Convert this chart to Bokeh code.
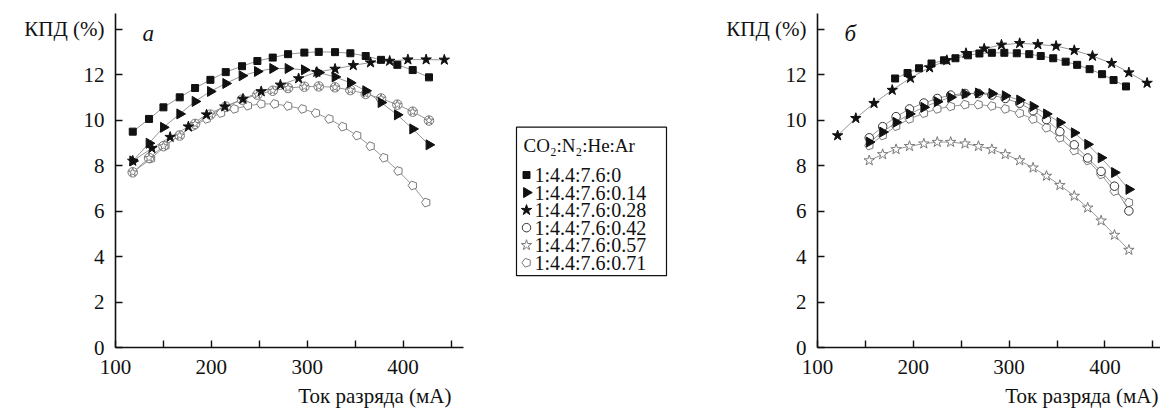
import numpy as np
from bokeh.plotting import figure
from bokeh.layouts import row
from bokeh.models import ColumnDataSource, FixedTicker, Label, Range1d, Title
from bokeh.core.properties import value
from bokeh.embed import file_html
from bokeh.resources import INLINE

# ---------------- data: panel "а" ----------------
a_x_sq = [118, 135, 150, 167, 183, 199, 215, 232, 248, 264, 280, 297, 312, 329, 345, 361, 377, 394, 410, 427]
a_sq = [9.50, 10.06, 10.57, 11.01, 11.42, 11.78, 12.12, 12.38, 12.61, 12.76, 12.91, 12.98, 13.01, 13.00, 12.95, 12.83, 12.66, 12.44, 12.21, 11.89]
a_tri = [8.21, 8.99, 9.69, 10.28, 10.83, 11.27, 11.62, 11.96, 12.15, 12.28, 12.28, 12.22, 12.10, 11.91, 11.65, 11.30, 10.78, 10.24, 9.62, 8.92]
a_mid = [7.71, 8.34, 8.86, 9.33, 9.84, 10.25, 10.60, 10.91, 11.13, 11.30, 11.42, 11.48, 11.49, 11.45, 11.33, 11.16, 10.96, 10.69, 10.38, 9.99]
a_x_star = [118, 138, 157, 176, 195, 214, 233, 252, 272, 291, 310, 329, 348, 366, 386, 405, 424, 443]
a_star = [8.21, 8.77, 9.26, 9.72, 10.25, 10.60, 10.94, 11.27, 11.56, 11.84, 12.12, 12.26, 12.42, 12.54, 12.61, 12.67, 12.67, 12.66]
a_x_pent = [118, 137, 152, 166, 180, 195, 210, 224, 238, 252, 266, 280, 295, 309, 323, 337, 352, 366, 380, 395, 410, 424]
a_pent = [7.71, 8.31, 8.88, 9.33, 9.72, 10.06, 10.32, 10.50, 10.64, 10.72, 10.72, 10.63, 10.50, 10.32, 10.06, 9.72, 9.33, 8.86, 8.35, 7.77, 7.13, 6.38]

# ---------------- data: panel "б" ----------------
b_x_star = [121, 140, 159, 178, 197, 217, 235, 255, 274, 292, 311, 330, 349, 368, 387, 407, 425, 444]
b_star = [9.33, 10.09, 10.75, 11.33, 11.86, 12.32, 12.64, 12.95, 13.15, 13.32, 13.39, 13.34, 13.27, 13.08, 12.83, 12.51, 12.10, 11.64]
b_x_sq = [181, 194, 206, 219, 232, 244, 257, 269, 282, 295, 308, 321, 333, 346, 359, 371, 384, 397, 409, 422]
b_sq = [11.84, 12.08, 12.29, 12.50, 12.64, 12.73, 12.86, 12.94, 12.97, 12.97, 12.95, 12.91, 12.83, 12.73, 12.58, 12.44, 12.25, 12.03, 11.77, 11.49]
b_x = [154, 168, 182, 196, 211, 225, 239, 254, 268, 282, 296, 311, 325, 339, 353, 368, 382, 396, 410, 425]
b_tri = [9.04, 9.48, 9.91, 10.28, 10.57, 10.82, 11.01, 11.16, 11.20, 11.18, 11.08, 10.89, 10.61, 10.28, 9.90, 9.45, 8.94, 8.35, 7.70, 6.96]
b_circ = [9.23, 9.72, 10.16, 10.50, 10.76, 10.96, 11.11, 11.18, 11.18, 11.11, 10.96, 10.75, 10.42, 10.03, 9.50, 8.92, 8.34, 7.75, 7.10, 6.01]
b_ostar = [8.23, 8.50, 8.72, 8.86, 8.97, 9.04, 9.04, 8.97, 8.86, 8.72, 8.50, 8.23, 7.91, 7.55, 7.14, 6.67, 6.15, 5.58, 4.95, 4.29]
b_pent = [8.89, 9.33, 9.74, 10.06, 10.31, 10.50, 10.61, 10.69, 10.69, 10.63, 10.50, 10.31, 10.05, 9.67, 9.23, 8.67, 8.23, 7.62, 6.88, 6.38]

legend_title = "CO₂:N₂:He:Ar"
legend_labels = ["1:4.4:7.6:0", "1:4.4:7.6:0.14", "1:4.4:7.6:0.28",
                 "1:4.4:7.6:0.42", "1:4.4:7.6:0.57", "1:4.4:7.6:0.71"]
x_ticks = [100, 150, 200, 250, 300, 350, 400, 450]
x_tick_labels = {100: "100", 150: "", 200: "200", 250: "", 300: "300", 350: "", 400: "400", 450: ""}
y_ticks = [0, 2, 4, 6, 8, 10, 12, 14]
y_tick_labels = {14: "КПД (%)"}
x_title = "Ток разряда (мА)"

FONT = "Liberation Serif"
LINE_C = "#8a8a8a"
BLACK = "#111111"
GREY = "#7a7a7a"
H = 412
TOP, BOTTOM = 13, 64


def style_axes(p, title_offset):
    p.grid.visible = False
    p.outline_line_color = None
    p.xaxis.ticker = FixedTicker(ticks=x_ticks)
    p.xaxis.major_label_overrides = x_tick_labels
    p.yaxis.ticker = FixedTicker(ticks=y_ticks)
    p.yaxis.major_label_overrides = y_tick_labels
    for ax in (p.xaxis[0], p.yaxis[0]):
        ax.axis_line_width = 1.6
        ax.axis_line_color = BLACK
        ax.major_tick_in = 7
        ax.major_tick_out = 0
        ax.major_tick_line_width = 1.4
        ax.major_tick_line_color = BLACK
        ax.minor_tick_line_color = None
        ax.major_label_text_font = FONT
        ax.major_label_text_font_size = "21px"
        ax.major_label_text_color = BLACK
    p.xaxis.major_label_standoff = 12
    p.yaxis.major_label_standoff = 11
    t = Title(text=x_title, align="right", offset=title_offset, standoff=10,
              text_font=FONT, text_font_size="21px", text_font_style="normal", text_color=BLACK)
    p.add_layout(t, "below")


def make_panel(width, left, right, x_end, letter, title_offset):
    p = figure(width=width, height=H, x_range=Range1d(100, x_end), y_range=Range1d(0, 14.7),
               output_backend="svg", toolbar_location=None,
               min_border_left=left, min_border_right=right, min_border_top=TOP, min_border_bottom=BOTTOM)
    style_axes(p, title_offset)
    p.add_layout(Label(x=27, y=314, x_units="screen", y_units="screen", text=letter,
                       text_font=FONT, text_font_style="italic", text_font_size="23px",
                       text_baseline="middle", text_color=BLACK))
    return p


def line(p, x, y):
    src = ColumnDataSource(dict(x=x, y=y))
    p.line("x", "y", source=src, line_color=LINE_C, line_width=0.9)
    return src


def markers(p, src, kind):
    if kind == 0:
        return p.scatter("x", "y", source=src, marker="square", size=7, fill_color=BLACK, line_color=BLACK)
    if kind == 1:
        return p.scatter("x", "y", source=src, marker="triangle", angle=-np.pi / 2, size=10,
                         fill_color=BLACK, line_color=BLACK)
    if kind == 2:
        return p.scatter("x", "y", source=src, marker="star", size=11, fill_color=BLACK, line_color=BLACK)
    if kind == 3:
        return p.scatter("x", "y", source=src, marker="circle", size=8.5, fill_color="white",
                         line_color="#333333", line_width=1)
    if kind == 4:
        return p.scatter("x", "y", source=src, marker="star", size=11, fill_color="white",
                         line_color=GREY, line_width=1)
    if kind == 5:
        return p.ngon("x", "y", source=src, radius=4.6, radius_units="screen", n=5, angle=np.pi / 2,
                      fill_color="white", line_color=GREY, line_width=1)


# ---------------- left panel ----------------
pa = make_panel(498, 115, 35, 463, "а", 12)
s_sq = line(pa, a_x_sq, a_sq)
s_tri = line(pa, a_x_sq, a_tri)
s_mid = line(pa, a_x_sq, a_mid)
s_star = line(pa, a_x_star, a_star)
s_pent = line(pa, a_x_pent, a_pent)
markers(pa, s_pent, 5)
pa.scatter("x", "y", source=s_mid, marker="circle", size=9.5, fill_color="white", line_color=GREY, line_width=1)
pa.scatter("x", "y", source=s_mid, marker="star", size=9, fill_color=None, line_color=GREY, line_width=1)
markers(pa, s_star, 2)
markers(pa, s_tri, 1)
markers(pa, s_sq, 0)

# ---------------- legend panel (canvas in page pixels, y measured upward) ----------------
LW = 202
pl = figure(width=LW, height=H, x_range=Range1d(0, LW), y_range=Range1d(BOTTOM, H - TOP),
            output_backend="svg", toolbar_location=None, x_axis_location=None, y_axis_location=None,
            min_border_left=0, min_border_right=0, min_border_top=TOP, min_border_bottom=BOTTOM,
            outline_line_color=None)
pl.grid.visible = False
box_l, box_r, box_t, box_b = 18, 168, H - 127, H - 276
pl.quad(left=[box_l], right=[box_r], top=[box_t], bottom=[box_b],
        fill_color="white", line_color=BLACK, line_width=1.2)
pl.text(x=[box_l + 7], y=[box_t - 18], text=[legend_title], text_font=value(FONT),
        text_font_size="19px", text_baseline="middle", text_color=BLACK)
row_step = 17.6
first_row = box_t - 48
for k, lab in enumerate(legend_labels):
    ry = first_row - k * row_step
    src = ColumnDataSource(dict(x=[box_l + 10], y=[ry]))
    markers(pl, src, k)
    pl.text(x=[box_l + 18], y=[ry], text=[lab], text_font=value(FONT),
            text_font_size="20px", text_baseline="middle", text_color=BLACK)

# ---------------- right panel ----------------
pb = make_panel(460, 117, 0, 458, "б", 2)
sb_star = line(pb, b_x_star, b_star)
sb_sq = line(pb, b_x_sq, b_sq)
sb_tri = line(pb, b_x, b_tri)
sb_circ = line(pb, b_x, b_circ)
sb_ostar = line(pb, b_x, b_ostar)
sb_pent = line(pb, b_x, b_pent)
markers(pb, sb_ostar, 4)
markers(pb, sb_pent, 5)
markers(pb, sb_circ, 3)
markers(pb, sb_tri, 1)
markers(pb, sb_sq, 0)
markers(pb, sb_star, 2)

layout = row(pa, pl, pb)
open("out.html", "w").write(file_html(layout, INLINE))
